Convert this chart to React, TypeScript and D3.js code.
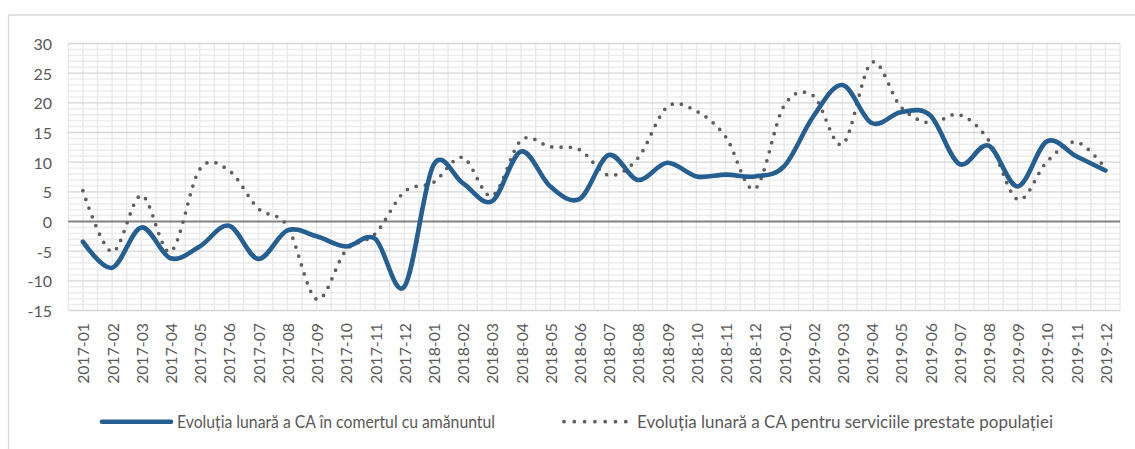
import React from "react";
import * as d3 from "d3";

const months = [
  "2017-01","2017-02","2017-03","2017-04","2017-05","2017-06","2017-07","2017-08","2017-09","2017-10","2017-11","2017-12",
  "2018-01","2018-02","2018-03","2018-04","2018-05","2018-06","2018-07","2018-08","2018-09","2018-10","2018-11","2018-12",
  "2019-01","2019-02","2019-03","2019-04","2019-05","2019-06","2019-07","2019-08","2019-09","2019-10","2019-11","2019-12",
];

const retail = [
  -3.4, -7.8, -1.0, -6.2, -4.2, -0.7, -6.3, -1.5, -2.5, -4.2, -2.9, -11.0,
  9.5, 6.5, 3.4, 11.8, 5.9, 3.8, 11.2, 7.0, 9.9, 7.6, 7.9, 7.6,
  9.3, 17.7, 23.0, 16.6, 18.4, 17.9, 9.7, 12.8, 5.9, 13.5, 11.0, 8.6,
];

const services = [
  5.2, -5.1, 4.4, -5.1, 8.8, 8.6, 2.2, -0.8, -13.1, -4.9, -2.1, 5.0,
  6.6, 10.8, 4.3, 13.7, 12.6, 12.1, 7.8, 10.7, 19.3, 18.6, 14.3, 5.5,
  19.5, 21.2, 13.0, 26.8, 19.3, 16.6, 18.0, 13.7, 3.7, 10.1, 13.4, 9.0,
];

const yTicks = [30, 25, 20, 15, 10, 5, 0, -5, -10, -15];

const legendRetail = "Evoluția lunară a CA în comertul cu amănuntul";
const legendServices = "Evoluția lunară a CA pentru serviciile prestate populației";

export default function App() {
  const W = 1135, H = 449;
  const left = 68.3, right = 1120, top = 43.5, bottom = 310.5;
  const font = "Lato, 'Open Sans', 'DejaVu Sans', sans-serif";
  const textColor = "#595959";

  const xBand = d3.scaleBand<string>().domain(months).range([left, right]).paddingInner(0).paddingOuter(0);
  const xc = (m: string) => (xBand(m) as number) + xBand.bandwidth() / 2;
  const y = d3.scaleLinear().domain([-15, 30]).range([bottom, top]);

  const line = d3
    .line<number>()
    .x((_, i) => xc(months[i]))
    .y((v) => y(v))
    .curve(d3.curveCatmullRom.alpha(0));

  const minorY = d3.range(-15, 31, 1).filter((v) => v % 5 !== 0);
  const vLines: number[] = [];
  months.forEach((m) => {
    vLines.push(xBand(m) as number);
    vLines.push(xc(m));
  });
  vLines.push(right);

  return (
    <svg
      width={W}
      height={H}
      style={{ position: "absolute", left: 0, top: 0, background: "#fff" }}
      fontFamily={font}
    >
      {/* chart frame */}
      <line x1={8.5} y1={15} x2={W} y2={15} stroke="#d9d9d9" strokeWidth={1.3} />
      <line x1={8.5} y1={15} x2={8.5} y2={H} stroke="#d9d9d9" strokeWidth={1.3} />

      {/* minor grid */}
      {minorY.map((v) => (
        <line key={"my" + v} x1={left} x2={right} y1={y(v)} y2={y(v)} stroke="#ececec" strokeWidth={1.4} />
      ))}
      {vLines.map((x, i) => (
        <line key={"vx" + i} x1={x} x2={x} y1={top} y2={bottom} stroke="#e9e9e9" strokeWidth={1.4} />
      ))}
      {/* major grid */}
      {yTicks.filter((v) => v !== 0).map((v) => (
        <line key={"My" + v} x1={left} x2={right} y1={y(v)} y2={y(v)} stroke="#d6d6d6" strokeWidth={1.4} />
      ))}
      <line x1={left} x2={right} y1={y(0)} y2={y(0)} stroke="#828282" strokeWidth={2} />

      {/* y labels */}
      {yTicks.map((v) => (
        <text key={"yl" + v} x={52} y={y(v)} textAnchor="end" dominantBaseline="central" fontSize={16} fill={textColor}>
          {v}
        </text>
      ))}

      {/* x labels */}
      {months.map((m) => (
        <text
          key={"xl" + m}
          transform={`translate(${xc(m)},${323}) rotate(-90)`}
          textAnchor="end"
          dominantBaseline="central"
          fontSize={15.8}
          fill={textColor}
        >
          {m}
        </text>
      ))}

      {/* series */}
      <path
        d={line(services) || ""}
        fill="none"
        stroke="#5e5e5e"
        strokeWidth={3.7}
        strokeLinecap="round"
        strokeDasharray="0 9.3"
      />
      <path d={line(retail) || ""} fill="none" stroke="#255e91" strokeWidth={4.6} strokeLinecap="round" strokeLinejoin="round" />

      {/* legend */}
      <line x1={102} x2={171} y1={421.7} y2={421.7} stroke="#255e91" strokeWidth={4.6} strokeLinecap="round" />
      <text x={177} y={421.7} dominantBaseline="central" fontSize={16.5} fill={textColor} textLength={318} lengthAdjust="spacingAndGlyphs">
        {legendRetail}
      </text>
      <line x1={564} x2={626} y1={421.7} y2={421.7} stroke="#5e5e5e" strokeWidth={3.7} strokeLinecap="round" strokeDasharray="0 10.3" />
      <text x={637} y={421.7} dominantBaseline="central" fontSize={16.5} fill={textColor} textLength={416} lengthAdjust="spacingAndGlyphs">
        {legendServices}
      </text>
    </svg>
  );
}
